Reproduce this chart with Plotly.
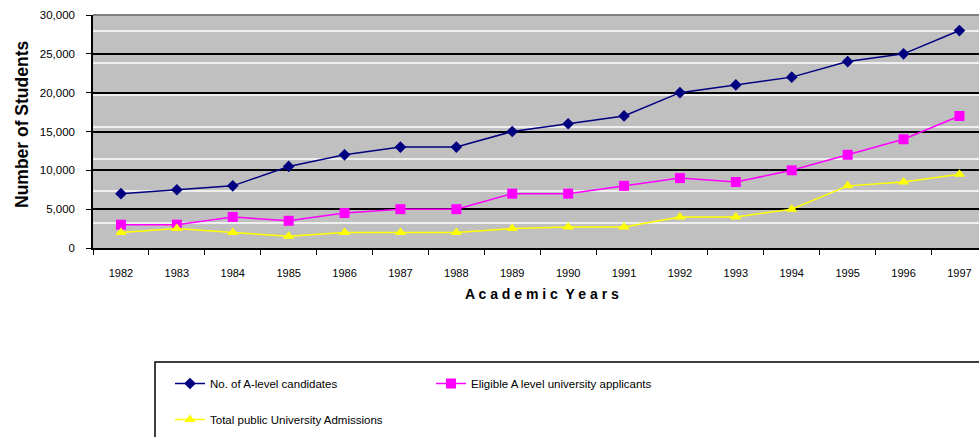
import plotly.graph_objects as go

years = ["1982", "1983", "1984", "1985", "1986", "1987", "1988", "1989",
         "1990", "1991", "1992", "1993", "1994", "1995", "1996", "1997"]
a_level_candidates = [7000, 7500, 8000, 10500, 12000, 13000, 13000, 15000,
                      16000, 17000, 20000, 21000, 22000, 24000, 25000, 28000]
eligible_applicants = [3000, 3000, 4000, 3500, 4500, 5000, 5000, 7000,
                       7000, 8000, 9000, 8500, 10000, 12000, 14000, 17000]
public_admissions = [2000, 2500, 2000, 1500, 2000, 2000, 2000, 2500,
                     2700, 2700, 4000, 4000, 5000, 8000, 8500, 9500]
y_ticks = [0, 5000, 10000, 15000, 20000, 25000, 30000]
y_tick_text = ["0", "5,000", "10,000", "15,000", "20,000", "25,000", "30,000"]

W, H = 979, 437
L, R, T, B = 93, 0, 15, 189
pw, ph = W - L - R, H - T - B
Y_MAX = 30000

def px(x):
    return (x - L) / pw

def py(y):
    return (H - B - y) / ph

def cx(x):
    return x / W

def cy(y):
    return 1 - y / H

# decorative secondary (white) rulings seen in the reference, in pixel rows
white_rule_rows = [31 + 32 * i for i in range(7)]

fig = go.Figure()
fig.add_trace(go.Scatter(
    x=years, y=a_level_candidates, mode="lines+markers",
    name="No. of A-level candidates",
    line=dict(color="#000080", width=1.5),
    marker=dict(symbol="diamond", size=9, color="#000080"),
    legend="legend"))
fig.add_trace(go.Scatter(
    x=years, y=eligible_applicants, mode="lines+markers",
    name="Eligible A level university applicants",
    line=dict(color="#FF00FF", width=1.5),
    marker=dict(symbol="square", size=10, color="#FF00FF"),
    legend="legend"))
fig.add_trace(go.Scatter(
    x=years, y=public_admissions, mode="lines+markers",
    name="Total public University Admissions",
    line=dict(color="#FFFF00", width=1.5),
    marker=dict(symbol="triangle-up", size=10, color="#FFFF00"),
    legend="legend2"))

font = "Liberation Sans, Arial, sans-serif"

shapes = [
    dict(type="line", xref="paper", yref="y", x0=0, x1=1,
         y0=(H - B - r) / ph * Y_MAX, y1=(H - B - r) / ph * Y_MAX,
         line=dict(color="white", width=1.5), layer="below")
    for r in white_rule_rows
]
shapes += [
    dict(type="line", xref="paper", yref="paper", x0=0, x1=1, y0=1, y1=1,
         line=dict(color="#808080", width=2), layer="above"),
    dict(type="rect", xref="paper", yref="paper",
         x0=px(155), x1=px(1000), y0=py(362), y1=py(460),
         line=dict(color="black", width=1.5), fillcolor="rgba(0,0,0,0)"),
]

fig.update_layout(
    width=W, height=H,
    margin=dict(l=L, r=R, t=T, b=B, pad=0, autoexpand=False),
    paper_bgcolor="white", plot_bgcolor="#C0C0C0",
    font=dict(family=font, size=10, color="black"),
    xaxis=dict(
        type="category", categoryorder="array", categoryarray=years,
        range=[-0.5, len(years) - 0.65],
        showline=True, linecolor="black", linewidth=1.5,
        ticks="outside", ticklen=5, tickcolor="black", tickson="boundaries",
        showgrid=False, ticklabelstandoff=14, automargin=False,
        tickfont=dict(size=11, family=font, color="black"),
    ),
    yaxis=dict(
        range=[0, Y_MAX], tickvals=y_ticks, ticktext=y_tick_text,
        showgrid=True, gridcolor="black", gridwidth=1.5, zeroline=False,
        showline=True, linecolor="black", linewidth=1.5, automargin=False,
        ticks="outside", ticklen=5, tickcolor="black", ticklabelstandoff=9,
        tickfont=dict(size=11.5, family=font, color="black"),
    ),
    legend=dict(
        orientation="h", xref="container", yref="container",
        x=cx(170), y=cy(369), xanchor="left", yanchor="top",
        entrywidth=216, bgcolor="rgba(0,0,0,0)", borderwidth=0,
        font=dict(size=11.5, family=font, color="black"), itemwidth=30,
    ),
    legend2=dict(
        orientation="h", xref="container", yref="container",
        x=cx(170), y=cy(405), xanchor="left", yanchor="top",
        bgcolor="rgba(0,0,0,0)", borderwidth=0,
        font=dict(size=11.5, family=font, color="black"), itemwidth=30,
    ),
    showlegend=True,
    shapes=shapes,
    annotations=[
        dict(text="<b>Number of Students</b>", xref="paper", yref="paper",
             x=px(22), y=py(125), xanchor="center", yanchor="middle",
             textangle=-90, showarrow=False,
             font=dict(size=17.5, family=font, color="black")),
        dict(text="<b>A c a d e m i c  Y e a r s</b>", xref="paper", yref="paper",
             x=px(542), y=py(294), xanchor="center", yanchor="middle",
             showarrow=False,
             font=dict(size=14, family=font, color="black")),
    ],
)

fig.write_html("out.html",
               config={"displayModeBar": False},
               post_script="document.body.style.margin='0';"
                           "document.body.style.overflow='hidden';")
